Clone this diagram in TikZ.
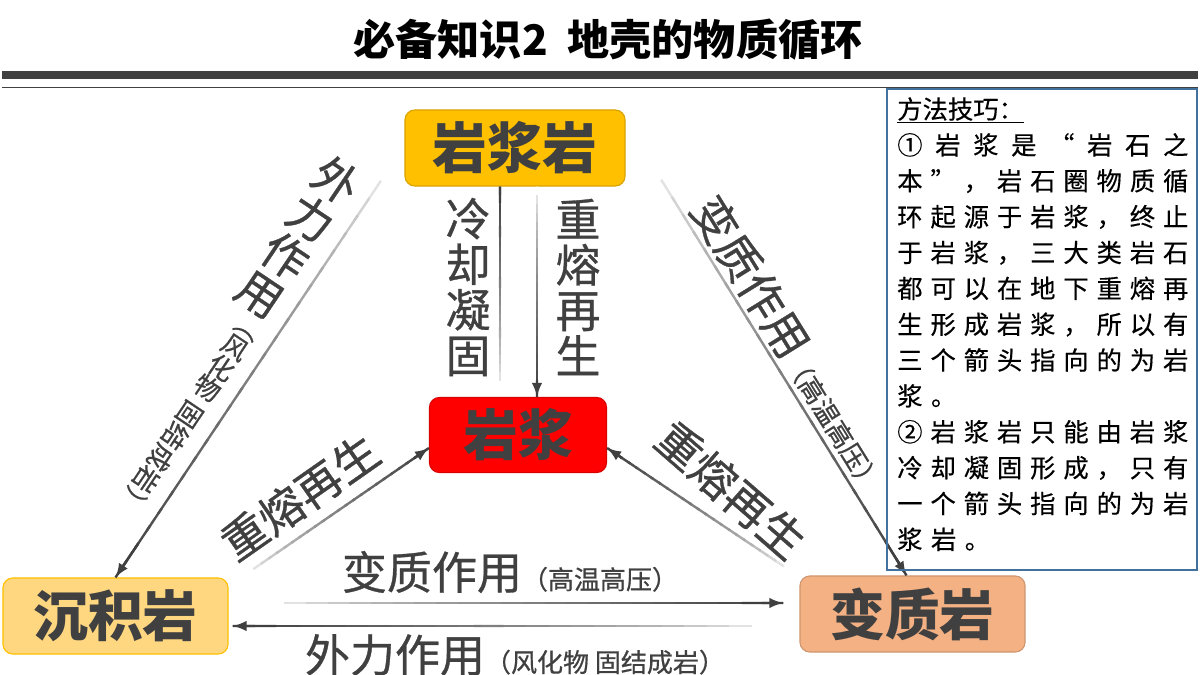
\documentclass[tikz,border=0pt]{standalone}
\usepackage{fontspec}
\setmainfont{Noto Sans CJK SC}
\newfontfamily\lblfont[FakeBold=0.7]{Noto Sans CJK SC}
\newfontfamily\tipfont[FakeBold=0.4]{Noto Sans CJK SC}
\usetikzlibrary{arrows.meta,calc}

\definecolor{txtgray}{HTML}{404040}
\definecolor{lngray}{HTML}{404040}
\definecolor{igneous}{HTML}{FFC000}
\definecolor{magma}{HTML}{FF0000}
\definecolor{sediment}{HTML}{FFD780}
\definecolor{metamor}{HTML}{F4B183}
\definecolor{tipblue}{HTML}{41719C}

\newcommand\smallsz{\fontsize{18.5pt}{17.5pt}\selectfont}
\newcommand\tipline[1]{\makebox[\linewidth][s]{\spaceskip=0pt plus 1fil\relax #1}}

% line that fades from one colour to another, optional arrow at the end
\newcommand\fadeline[5][]{%
  \foreach \k in {1,...,24}{%
    \pgfmathsetmacro\segA{(\k-1)/24}%
    \pgfmathsetmacro\segB{min(1,(\k+0.3)/24)}%
    \pgfmathtruncatemacro\segC{100*((\k-1)/23)^0.6}%
    \draw[fadeln, color=#5!\segC!#4] ($(#2)!\segA!(#3)$) -- ($(#2)!\segB!(#3)$);
  }%
  \draw[fadeln, color=#5, #1] ($(#2)!0.92!(#3)$) -- (#3);
}

\tikzset{
  rock/.style={draw, line width=0.8pt, rounded corners=7pt, minimum width=5.5cm, minimum height=1.9cm,
    text=txtgray, font=\fontsize{39pt}{39pt}\selectfont\bfseries, inner sep=0pt},
  lbl/.style={text=txtgray, inner sep=0pt, font=\lblfont\fontsize{32pt}{32.4pt}\selectfont},
  vlbl/.style={lbl, align=center},
  fadeln/.style={line width=1.7pt},
  tip/.style={-{Latex[length=10pt,width=7.5pt]}},
}

\begin{document}
\begin{tikzpicture}[x=0.025cm, y=-0.025cm]
\useasboundingbox (0,0) rectangle (1200,675);

% title and rules
\node[font=\fontsize{30pt}{30pt}\selectfont\bfseries] (title) at (608,40) {必备知识2\hspace{14pt}地壳的物质循环};
\draw[line width=5.5pt, lngray] (2,75) -- (1198,75);
\draw[line width=1.4pt, lngray] (2,87.5) -- (1198,87.5);

% rocks
\node[rock, fill=igneous, draw=igneous!85!black] (igr) at (515,148) {岩浆岩};
\node[rock, fill=magma, draw=magma!85!black, minimum width=4.425cm, minimum height=1.875cm] (mag) at (518,435) {岩浆};
\node[rock, fill=sediment, draw=igneous, minimum width=5.625cm] (sed) at (115.5,616) {沉积岩};
\node[rock, fill=metamor, draw=metamor!85!black, minimum width=5.625cm] (met) at (912.5,614) {变质岩};

% connectors
\fadeline{$(mag.north)+(-18,-8)$}{$(igr.south)+(-15,0)$}{white}{lngray}
\fadeline[tip]{$(igr.south)+(22,0)$}{$(mag.north)+(19,0)$}{white}{lngray}
\fadeline[tip]{$(igr.south west)+(-12,-23)$}{sed.north}{white}{lngray}
\fadeline[tip]{$(igr.south east)+(25,-24)$}{$(met.north)+(-6,0)$}{white}{lngray}
\fadeline[tip]{$(sed.north east)+(17,-3)$}{$(mag.west)+(0,13)$}{white}{lngray}
\fadeline[tip]{$(met.north west)+(-8,-4)$}{$(mag.east)+(0,13)$}{white}{lngray}
\fadeline[tip]{$(sed.east)+(34,-13)$}{$(met.west)+(-16,-11)$}{white}{lngray}
\fadeline[tip]{$(met.west)+(-25,12)$}{$(sed.east)+(4,10)$}{white}{lngray}

% labels
\node[vlbl] (coolt) at (468,287) {冷\\却\\凝\\固};
\node[vlbl] (remt) at (578,287) {重\\熔\\再\\生};
\node[vlbl, rotate=-33.9] (weat) at (298,237) {外\\力\\作\\用};
\node[lbl, align=center, font=\lblfont\smallsz, rotate=-33.9] (weats) at (186,420)
  {︵\\风\\化\\物\\[4pt]\rotatebox[origin=c]{-90}{固结成岩}\\︶};
\node[lbl, rotate=-58.2] (metat) at (792,343) {变质作用{\smallsz（高温高压）}};
\node[lbl, rotate=35] (remlt) at (300,497) {重熔再生};
\node[lbl, rotate=-41] (remrt) at (731,490) {重熔再生};
\node[lbl] (metab) at (510,572) {变质作用{\smallsz（高温高压）}};
\node[lbl] (weab) at (515,655) {外力作用{\smallsz（风化物 固结成岩）}};

% tips box
\draw[tipblue, line width=1.5pt] (887,89) rectangle (1197,570);
\node[anchor=north west, inner sep=0pt, text width=7.275cm, align=left,
  font=\tipfont\fontsize{18pt}{25.5pt}\selectfont] (tips) at (897,97) {%
  \underline{方法技巧：}\\
  \tipline{① 岩 浆 是 “ 岩 石 之}\\
  \tipline{本 ” ， 岩 石 圈 物 质 循}\\
  \tipline{环 起 源 于 岩 浆 ， 终 止}\\
  \tipline{于 岩 浆 ， 三 大 类 岩 石}\\
  \tipline{都 可 以 在 地 下 重 熔 再}\\
  \tipline{生 形 成 岩 浆 ， 所 以 有}\\
  \tipline{三 个 箭 头 指 向 的 为 岩}\\
  浆\hspace{6pt}。\\
  \tipline{② 岩 浆 岩 只 能 由 岩 浆}\\
  \tipline{冷 却 凝 固 形 成 ， 只 有}\\
  \tipline{一 个 箭 头 指 向 的 为 岩}\\
  浆\hspace{6pt}岩\hspace{6pt}。};
\end{tikzpicture}
\end{document}
